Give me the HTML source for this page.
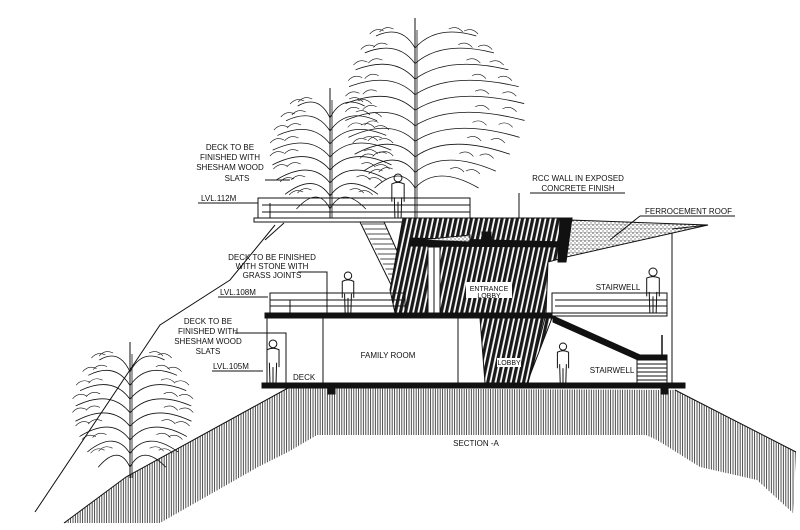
<!DOCTYPE html>
<html><head><meta charset="utf-8"><style>
html,body{margin:0;padding:0;background:#fff;}
svg{display:block;}
text{font-family:"Liberation Sans",sans-serif;font-size:8px;fill:#111;}
</style></head><body>
<svg id="s" width="800" height="530" viewBox="0 0 800 530" xmlns="http://www.w3.org/2000/svg">
<defs>
<pattern id="vh" width="2.4" height="10" patternUnits="userSpaceOnUse"><line x1="1" y1="0" x2="1" y2="10" stroke="#222" stroke-width="0.8"/></pattern>
<pattern id="cw" width="5" height="12" patternUnits="userSpaceOnUse" patternTransform="rotate(12)"><rect width="5" height="12" fill="#fff"/><rect x="0" y="0" width="3.2" height="12" fill="#1a1a1a"/></pattern>
<pattern id="fc" width="4" height="4" patternUnits="userSpaceOnUse"><rect width="4" height="4" fill="#fff"/><circle cx="1" cy="1" r="0.7" fill="#222"/><circle cx="3" cy="3" r="0.6" fill="#444"/><circle cx="3" cy="0.5" r="0.4" fill="#333"/></pattern>
</defs>
<g stroke="#111" fill="none" stroke-width="1">
<path d="M64,523 L126,477 L288,388 L675,390 L796,452 L793,513 L757,480 L700,467 L657,440 L646,435 L317,435 L288,452 L258,467 L160,523 Z" fill="url(#vh)" stroke="none"/>
<path d="M64,523 L126,477 L288,388 M675,390 L796,452" stroke-width="1"/>
<path d="M35,512 L160,325 L230,280 L275,225"/>
<rect x="258" y="198" width="212" height="20" fill="#fff"/>
<line x1="262" y1="205" x2="470" y2="205"/><line x1="262" y1="212" x2="470" y2="212"/>
<rect x="254" y="218" width="222" height="4" fill="#fff"/>
<line x1="270" y1="203" x2="270" y2="218"/>
<g id="st"></g>
<path d="M403,218 L572,218 L563,258 L548,262 L546,313 L395,313 L390,290 Z" fill="url(#cw)" stroke="#111"/>
<rect x="428" y="247" width="12" height="66" fill="#fff"/>
<line x1="434" y1="247" x2="434" y2="313"/>
<path d="M480,318 L552,318 L527,383 L485,383 Z" fill="url(#cw)"/>
<rect x="466" y="282" width="46" height="16" fill="#fff" stroke="none"/>
<rect x="497" y="358" width="24" height="9" fill="#fff" stroke="none"/>
<path d="M570,220 L708,225 L562,258 Z" fill="url(#fc)"/>
<path d="M410,238 L565,242 L565,247 L410,246 Z" fill="#111"/>
<path d="M560,218 L572,218 L566,262 L558,262 Z" fill="#111"/>
<path d="M420,240 L470,235 L470,242 Z" fill="url(#fc)"/>
<rect x="482" y="232" width="9" height="8" fill="#111"/>
<line x1="672" y1="233" x2="672" y2="388"/>
<line x1="672" y1="229" x2="708" y2="225"/>
<rect x="270" y="293" width="135" height="20" fill="none"/>
<line x1="270" y1="300" x2="405" y2="300"/><line x1="270" y1="306" x2="405" y2="306"/>
<line x1="290" y1="300" x2="290" y2="313"/>
<rect x="265" y="313" width="288" height="5" fill="#111"/>
<rect x="552" y="293" width="115" height="20"/>
<line x1="555" y1="300" x2="667" y2="300"/><line x1="555" y1="306" x2="667" y2="306"/>
<rect x="552" y="313" width="115" height="3" fill="#fff"/>
<path d="M553,316 L640,355 L667,355 L667,360 L638,360 L553,322 Z" fill="#111"/>
<rect x="637" y="360" width="30" height="23" fill="#fff"/>
<line x1="637" y1="364" x2="667" y2="364"/><line x1="637" y1="368" x2="667" y2="368"/><line x1="637" y1="372" x2="667" y2="372"/><line x1="637" y1="376" x2="667" y2="376"/><line x1="637" y1="380" x2="667" y2="380"/>
<line x1="662" y1="335" x2="662" y2="355" stroke-width="1.5"/>
<line x1="267" y1="318" x2="267" y2="383"/>
<line x1="323" y1="318" x2="323" y2="383"/>
<line x1="458" y1="318" x2="458" y2="383"/>
<line x1="545" y1="318" x2="528" y2="383"/>
<rect x="262" y="383" width="423" height="5" fill="#111"/>
<rect x="328" y="388" width="7" height="6" fill="#111"/>
<rect x="661" y="388" width="7" height="6" fill="#111"/>
<path d="M265,180 L290,180"/>
<line x1="198" y1="203" x2="258" y2="203"/>
<path d="M284,223 L265,240"/>
<path d="M530,193 L625,193 M519,193 L519,218"/>
<path d="M640,216 L735,216 M640,216 L610,240"/>
<path d="M298,272 L327,272 L327,313"/>
<line x1="218" y1="297" x2="268" y2="297"/>
<path d="M235,333 L286,333 L286,383"/>
<line x1="212" y1="371" x2="263" y2="371"/>
<g id="ppl"></g>
<g id="tr" stroke-width="0.8"></g>
</g>
<g>
<text x="230" y="150" text-anchor="middle">DECK TO BE</text>
<text x="230" y="160" text-anchor="middle">FINISHED WITH</text>
<text x="230" y="170" text-anchor="middle">SHESHAM WOOD</text>
<text x="237" y="181" text-anchor="middle">SLATS</text>
<text x="201" y="201">LVL.112M</text>
<text x="578" y="181" text-anchor="middle">RCC WALL IN EXPOSED</text>
<text x="578" y="191" text-anchor="middle">CONCRETE FINISH</text>
<text x="645" y="214">FERROCEMENT ROOF</text>
<text x="272" y="260" text-anchor="middle">DECK TO BE FINISHED</text>
<text x="272" y="269" text-anchor="middle">WITH STONE WITH</text>
<text x="272" y="278" text-anchor="middle">GRASS JOINTS</text>
<text x="220" y="295">LVL.108M</text>
<text x="208" y="324" text-anchor="middle">DECK TO BE</text>
<text x="208" y="334" text-anchor="middle">FINISHED WITH</text>
<text x="208" y="344" text-anchor="middle">SHESHAM WOOD</text>
<text x="208" y="354" text-anchor="middle">SLATS</text>
<text x="213" y="369">LVL.105M</text>
<text x="293" y="380">DECK</text>
<text x="388" y="358" text-anchor="middle">FAMILY ROOM</text>
<text x="489" y="291" text-anchor="middle" style="font-size:7px">ENTRANCE</text>
<text x="489" y="298" text-anchor="middle" style="font-size:7px">LOBBY</text>
<text x="509" y="365" text-anchor="middle" style="font-size:7px">LOBBY</text>
<text x="618" y="290" text-anchor="middle">STAIRWELL</text>
<text x="612" y="373" text-anchor="middle">STAIRWELL</text>
<text x="476" y="446" text-anchor="middle">SECTION -A</text>
</g>
</svg>
<script>
var NS="http://www.w3.org/2000/svg";
function P(g,d,sw){var p=document.createElementNS(NS,"path");p.setAttribute("d",d);if(sw)p.setAttribute("stroke-width",sw);document.getElementById(g).appendChild(p);}
for(var i=0;i<18;i++){var y=224+i*5;var x=362+i*2.6;P("st","M"+x+","+y+" L"+(x+22)+","+y,0.7);}
P("st","M360,222 L405,313");P("st","M384,222 L425,313");
function person(x,top,bot){var h=bot-top;var hr=h*0.09;
P("ppl","M"+x+","+(top+hr)+" m-"+hr+",0 a"+hr+","+hr+" 0 1,0 "+(2*hr)+",0 a"+hr+","+hr+" 0 1,0 -"+(2*hr)+",0");
var w=h*0.14;var s=top+2*hr;
P("ppl","M"+(x-w)+","+(s+h*0.45)+" L"+(x-w)+","+(s+2)+" Q"+x+","+(s-1)+" "+(x+w)+","+(s+2)+" L"+(x+w)+","+(s+h*0.45)+" M"+(x-w*0.6)+","+(s+h*0.35)+" L"+(x-w*0.5)+","+bot+" M"+(x+w*0.6)+","+(s+h*0.35)+" L"+(x+w*0.5)+","+bot+" M"+x+","+(s+h*0.45)+" L"+x+","+bot);}
person(398,174,218);person(348,272,313);person(653,268,313);person(563,343,383);person(273,340,383);
function tree(cx,top,base,wl,wr,n){P("tr","M"+cx+","+top+" L"+cx+","+base,1);P("tr","M"+(cx+2)+","+(top+12)+" L"+(cx+2)+","+base,0.8);
var hgt=(base-top);for(var i=0;i<n;i++){var t=i/(n-1);var y=top+t*hgt*0.7+8;var f=0.3+0.7*Math.sin(Math.PI*(0.12+0.75*t));
for(var sd=-1;sd<=1;sd+=2){var ww=(sd<0?wl:wr)*f;var ex=cx+sd*ww;var ey=y+10+t*12;
P("tr","M"+cx+","+(y+22)+" Q"+(cx+sd*ww*0.35)+","+(y-2)+" "+ex+","+ey);
for(var k=1;k<=2;k++){var fx=cx+sd*ww*(0.3+k*0.25);var fy=y+1+k*2;P("tr","M"+fx+","+fy+" q"+(sd*8)+",-4 "+(sd*14)+",3",0.6);}}}}
tree(415,18,218,70,110,10);tree(330,88,218,58,62,8);tree(130,342,478,55,62,8);
</script>
</body></html>
